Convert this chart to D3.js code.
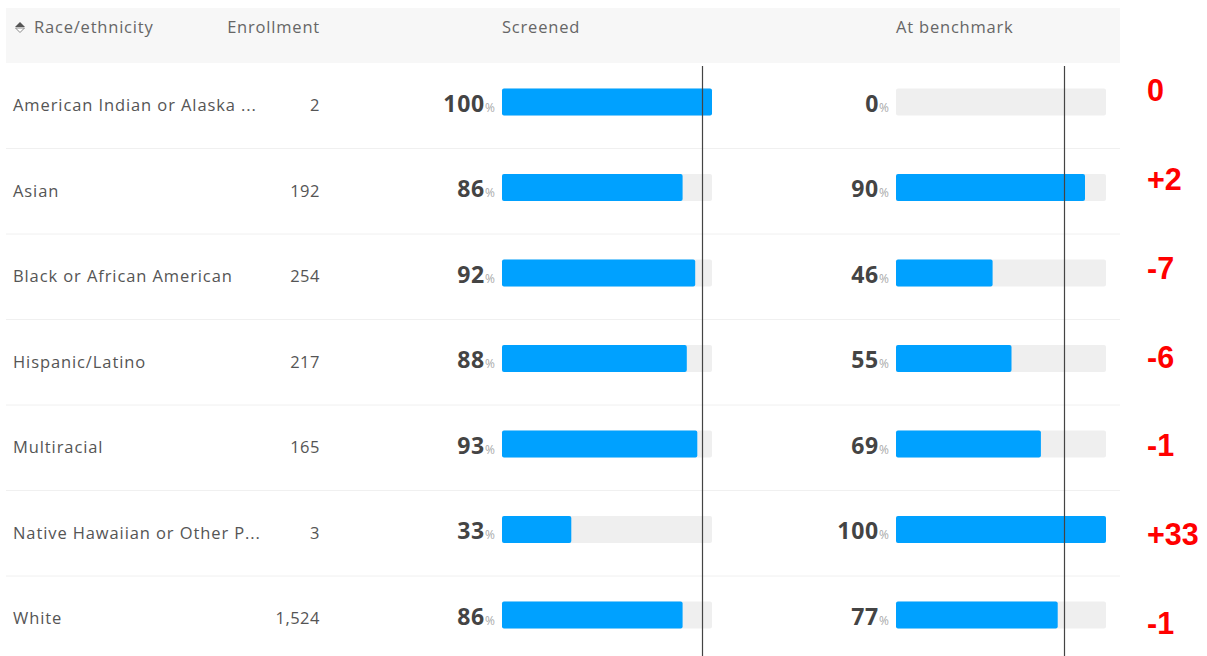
<!DOCTYPE html>
<html>
<head>
<meta charset="utf-8">
<script src="https://cdn.jsdelivr.net/npm/d3@7"></script>
<style>
  body { margin: 0; background: #fff; }
  svg { display: block; font-family: "Open Sans", Lato, sans-serif; }
</style>
</head>
<body>
<svg width="1207" height="656"></svg>
<script>
// Table data.
const races = [
    "American Indian or Alaska ...",
    "Asian",
    "Black or African American",
    "Hispanic/Latino",
    "Multiracial",
    "Native Hawaiian or Other P...",
    "White"
];
const enrollment = [2, 192, 254, 217, 165, 3, 1524];
const screened = [100, 86, 92, 88, 93, 33, 86];
const atBenchmark = [0, 90, 46, 55, 69, 100, 77];
const change = [0, 2, -7, -6, -1, 33, -1];

// Target lines drawn over each bar column.
const screenedTarget = 95;
const benchmarkTarget = 80;

const headers = ["Race/ethnicity", "Enrollment", "Screened", "At benchmark"];

const width = 1207;
const height = 656;
const tableLeft = 6;
const tableRight = 1120;
const headerTop = 8;
const headerBottom = 63;

const svg = d3.select("svg");

// Row bands.
const y = d3.scaleBand()
    .domain(races)
    .range([62.5, 62.5 + 85.5 * races.length]);
const barOffset = 39.5;
const barHeight = 27;

// Bar scales for the two percentage columns.
const xScreened = d3.scaleLinear().domain([0, 100]).range([502, 712]);
const xBench = d3.scaleLinear().domain([0, 100]).range([896, 1106]);

// Change labels sit on their own slightly wider spacing.
const yChange = d3.scalePoint()
    .domain(races)
    .range([90, 623]);

// Header band.
svg.append("rect")
    .attr("x", tableLeft)
    .attr("y", headerTop)
    .attr("width", tableRight - tableLeft)
    .attr("height", headerBottom - headerTop)
    .attr("fill", "#f7f7f7");

// Sort icon next to the first header.
const icon = svg.append("g").attr("transform", "translate(20,27)");
icon.append("path").attr("d", "M-5,0 L0,-5 L5,0 Z").attr("fill", "#555");
icon.append("path").attr("d", "M-4.5,1 L0,5.5 L4.5,1 Z")
    .attr("fill", "#fff").attr("stroke", "#888").attr("stroke-width", 1);

const headerText = svg.append("g")
    .attr("font-size", 16.5)
    .attr("letter-spacing", 0.8)
    .attr("fill", "#666");
headerText.append("text").attr("x", 34).attr("y", 33).text(headers[0]);
headerText.append("text").attr("x", 320).attr("y", 33).attr("text-anchor", "end").text(headers[1]);
headerText.append("text").attr("x", xScreened(0)).attr("y", 33).text(headers[2]);
headerText.append("text").attr("x", xBench(0)).attr("y", 33).text(headers[3]);

// Row separators.
svg.append("g")
    .selectAll("line")
    .data(races.slice(1))
    .join("line")
    .attr("x1", tableLeft)
    .attr("x2", tableRight)
    .attr("y1", d => y(d) + 0.5)
    .attr("y2", d => y(d) + 0.5)
    .attr("stroke", "#f0f0f0");

const rows = svg.append("g")
    .selectAll("g")
    .data(races.map((r, i) => ({
        race: r,
        enrollment: enrollment[i],
        screened: screened[i],
        bench: atBenchmark[i],
        change: change[i]
    })))
    .join("g")
    .attr("transform", d => `translate(0,${y(d.race) + barOffset})`);

// Name and enrollment columns.
rows.append("text")
    .attr("x", 13)
    .attr("y", 9)
    .attr("font-size", 16.5)
    .attr("letter-spacing", 0.9)
    .attr("fill", "#555")
    .text(d => d.race);

rows.append("text")
    .attr("x", 320)
    .attr("y", 9)
    .attr("text-anchor", "end")
    .attr("font-size", 16.5)
    .attr("letter-spacing", 0.5)
    .attr("fill", "#555")
    .text(d => d3.format(",")(d.enrollment));

// Draws one percentage column: track, bar and value label.
function barColumn(x, key) {
    rows.append("rect")
        .attr("x", x(0))
        .attr("y", -barHeight / 2)
        .attr("width", x(100) - x(0))
        .attr("height", barHeight)
        .attr("rx", 2)
        .attr("fill", "#efefef");

    rows.append("rect")
        .attr("x", x(0))
        .attr("y", -barHeight / 2)
        .attr("width", d => x(d[key]) - x(0))
        .attr("height", barHeight)
        .attr("rx", 2)
        .attr("fill", "#00a1ff");

    const label = rows.append("text")
        .attr("x", x(0) - 7)
        .attr("y", 9.5)
        .attr("text-anchor", "end");
    label.append("tspan")
        .attr("font-size", 23)
        .attr("font-weight", 700)
        .attr("letter-spacing", 0.8)
        .attr("fill", "#444")
        .text(d => d[key]);
    label.append("tspan")
        .attr("font-size", 12)
        .attr("fill", "#aaa")
        .text("%");
}

barColumn(xScreened, "screened");
barColumn(xBench, "bench");

// Target lines.
svg.append("g")
    .selectAll("line")
    .data([xScreened(screenedTarget), xBench(benchmarkTarget)])
    .join("line")
    .attr("x1", d => Math.round(d) + 0.5)
    .attr("x2", d => Math.round(d) + 0.5)
    .attr("y1", 66)
    .attr("y2", height)
    .attr("stroke", "#444")
    .attr("stroke-width", 1.2);

// Red change annotations.
svg.append("g")
    .selectAll("text")
    .data(races.map((r, i) => ({ race: r, change: change[i] })))
    .join("text")
    .attr("x", 1147)
    .attr("y", d => yChange(d.race) + 11)
    .attr("font-family", "'Liberation Sans', Arial, sans-serif")
    .attr("font-size", 30.5)
    .attr("font-weight", 700)
    .attr("fill", "#ff0000")
    .text(d => d.change > 0 ? "+" + d.change : String(d.change));
</script>
</body>
</html>
